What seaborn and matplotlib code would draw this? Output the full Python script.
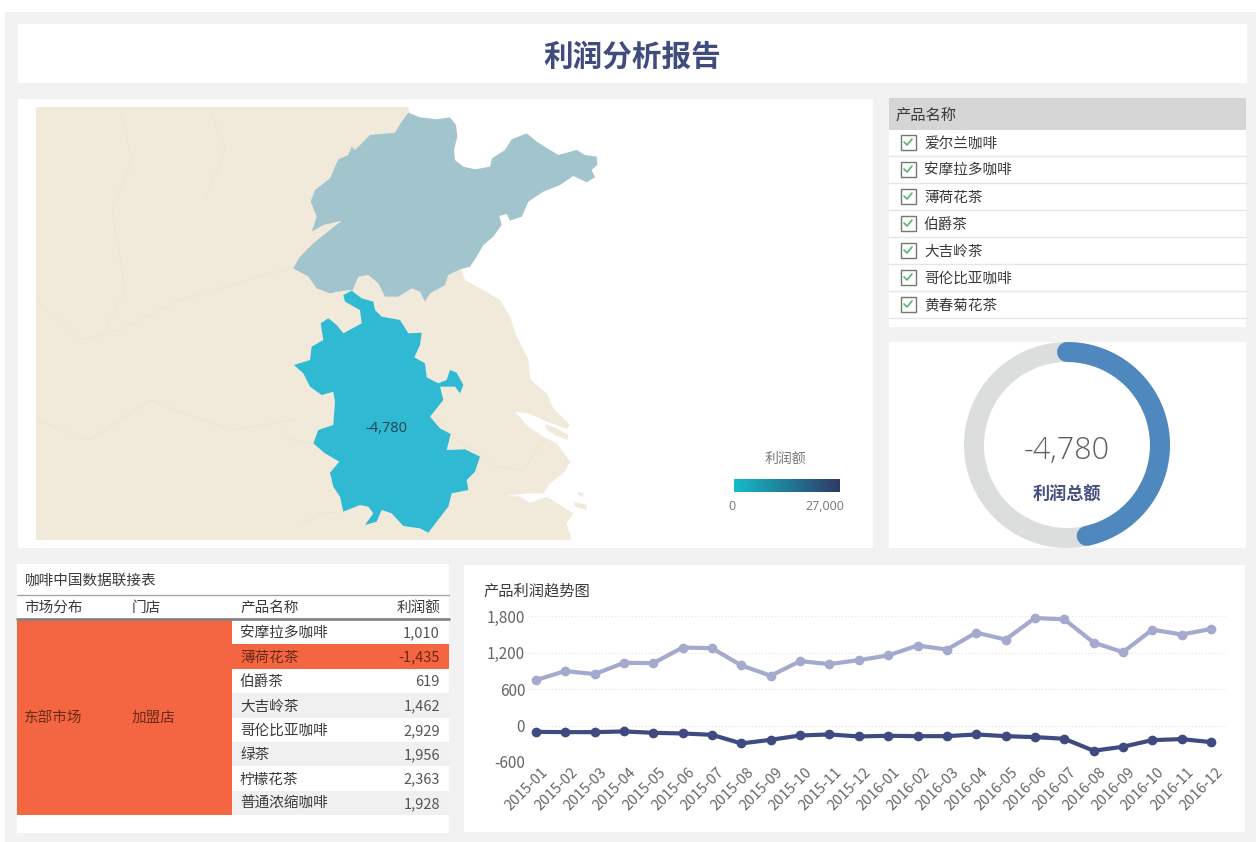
import matplotlib.pyplot as plt
import numpy as np
import seaborn as sns
from matplotlib.colors import LinearSegmentedColormap
from matplotlib.patches import Rectangle
from matplotlib.transforms import ScaledTranslation

# data
months = [f"2015-{m:02d}" for m in range(1, 13)] + [f"2016-{m:02d}" for m in range(1, 13)]
profit_upper = [747, 895, 845, 1031, 1025, 1282, 1271, 987, 818, 1058, 1009, 1075,
                1151, 1315, 1249, 1527, 1413, 1767, 1745, 1364, 1205, 1576, 1495, 1587]
profit_lower = [-104, -109, -109, -98, -120, -131, -153, -295, -235, -164, -147, -180,
                -169, -175, -175, -147, -175, -191, -218, -415, -349, -240, -224, -273]
y_ticks = [-600, 0, 600, 1200, 1800]
table_products = ["安摩拉多咖啡", "薄荷花茶", "伯爵茶", "大吉岭茶", "哥伦比亚咖啡", "绿茶", "柠檬花茶", "普通浓缩咖啡"]
table_profit = [1010, -1435, 619, 1462, 2929, 1956, 2363, 1928]
filter_products = ["爱尔兰咖啡", "安摩拉多咖啡", "薄荷花茶", "伯爵茶", "大吉岭茶", "哥伦比亚咖啡", "黄春菊花茶"]
total_profit = -4780
gauge_share = 0.466

shandong = [(385, 38), (420, 52), (470, 58), (510, 52), (528, 75), (532, 110), (522, 150), (525, 180),
            (550, 200), (585, 208), (630, 200), (636, 175), (675, 150), (695, 118), (740, 100), (770, 125),
            (810, 150), (835, 165), (890, 150), (915, 165), (950, 170), (952, 195), (935, 210), (945, 232),
            (920, 247), (880, 228), (840, 255), (790, 275), (745, 305), (725, 350), (690, 362), (680, 342),
            (658, 348), (665, 375), (640, 410), (610, 435), (590, 470), (570, 500), (540, 508), (505, 525),
            (495, 555), (450, 580), (435, 605), (420, 575), (395, 565), (355, 590), (315, 590), (295, 550),
            (265, 525), (235, 530), (218, 570), (190, 572), (150, 580), (110, 565), (85, 530), (40, 505),
            (60, 470), (100, 430), (185, 362), (130, 375), (95, 395), (110, 350), (92, 305), (105, 270),
            (150, 235), (175, 178), (205, 165), (215, 140), (225, 150), (270, 105), (345, 98), (365, 65)]
anhui = [(215, 32), (245, 55), (280, 65), (285, 90), (305, 110), (360, 120), (385, 160), (425, 158),
         (420, 195), (403, 232), (435, 250), (440, 292), (475, 310), (500, 300), (510, 270), (530, 278),
         (550, 315), (540, 340), (525, 320), (480, 320), (490, 360), (450, 410), (480, 445), (512, 462),
         (500, 510), (555, 508), (600, 530), (585, 575), (560, 600), (565, 630), (515, 640), (505, 680),
         (470, 725), (445, 758), (420, 745), (370, 738), (335, 700), (305, 690), (290, 725), (255, 735),
         (280, 700), (265, 680), (240, 675), (190, 695), (180, 650), (160, 620), (150, 578), (178, 545),
         (135, 520), (100, 490), (115, 450), (160, 435), (165, 365), (160, 335), (125, 345), (90, 320),
         (70, 280), (42, 255), (90, 240), (95, 200), (130, 180), (122, 130), (145, 115), (170, 135),
         (190, 160), (245, 130), (240, 90), (195, 65), (190, 45)]
coast = [(555, 0), (600, 25), (660, 60), (690, 110), (710, 170), (745, 240), (752, 300), (800, 340),
         (820, 385), (870, 435), (862, 447), (800, 425), (745, 400), (705, 395), (745, 440), (790, 470),
         (830, 490), (870, 545), (855, 575), (810, 610), (790, 640), (740, 640), (680, 648), (720, 650),
         (750, 668), (800, 650), (880, 700), (860, 730), (875, 780)]
chongming = [(795, 432), (830, 445), (865, 465), (862, 480), (825, 465), (800, 450)]
islands = [[(895, 635), (912, 640), (908, 650), (895, 645)], [(882, 665), (920, 675), (920, 690), (885, 680)]]
borders = [[(600, 520), (650, 560), (730, 570), (790, 480)], [(0, 450), (40, 480), (100, 490)],
           [(60, 740), (120, 700), (190, 695)], [(455, 400), (530, 480), (600, 520)]]
# faint province lines on the west side, screen pixels
west_borders = [[(120, 108), (132, 160), (112, 210), (125, 290), (100, 340)],
                [(36, 420), (90, 440), (150, 400), (230, 430), (295, 420)],
                [(36, 300), (80, 340), (120, 330), (180, 300), (290, 268)],
                [(210, 108), (225, 150), (205, 200)]]


def crop(points, x0, y0):
    return [x0 + p[0] / 3 for p in points], [y0 + p[1] / 3 for p in points]


sns.set_theme(style="white")
plt.rcParams["font.family"] = ["Noto Sans CJK SC", "DejaVu Sans"]
plt.rcParams["axes.unicode_minus"] = False

fig = plt.figure(figsize=(12.56, 8.42), dpi=100, facecolor="white")
W, H = 1256, 842

# page canvas in pixels, top-left origin
page = fig.add_axes([0, 0, 1, 1])
page.set_xlim(0, W)
page.set_ylim(H, 0)
page.axis("off")


def box(x0, y0, x1, y1, color, z=1):
    page.add_patch(Rectangle((x0, y0), x1 - x0, y1 - y0, facecolor=color, edgecolor="none", zorder=z))


def label(x, y, s, size=10.5, color="#3a3a3a", ha="left", **kw):
    page.text(x, y + 1, s, fontsize=size, color=color, ha=ha, va="center", zorder=6, **kw)


box(5, 12, 1256, 842, "#f2f2f2", 0)
for panel in [(18, 24, 1247, 83), (18, 99, 873, 548), (889, 98, 1246, 327),
              (889, 342, 1246, 548), (17, 564, 449, 833), (464, 565, 1245, 832)]:
    box(*panel, "white")

label(632, 56, "利润分析报告", size=21.3, color="#404c7e", ha="center", fontweight="bold")

# map
lx, ly = crop(coast, 280, 280)
page.fill([36, 408] + lx + [36], [107, 107] + ly + [540], color="#f1eadb", lw=0, zorder=2)
for shape in [chongming] + islands:
    sx, sy = crop(shape, 280, 280)
    page.fill(sx, sy, color="#f1eadb", lw=0, zorder=2)
for line in borders:
    sx, sy = crop(line, 280, 280)
    page.plot(sx, sy, color="#ece4d3", lw=0.6, zorder=2)
for line in west_borders:
    page.plot([p[0] for p in line], [p[1] for p in line], color="#ece4d3", lw=0.6, zorder=2)
sx, sy = crop(shandong, 280, 100)
page.fill(sx, sy, color="#a2c4cd", lw=0, zorder=3)
sx, sy = crop(anhui, 280, 280)
page.fill(sx, sy, color="#2fb9d2", lw=0, zorder=3)
label(386, 427, f"{total_profit:,}", size=10.5, color="#24424f", ha="center", family="Open Sans")

# colour legend
label(785, 458, "利润额", size=10, color="#777777", ha="center")
ramp = LinearSegmentedColormap.from_list("ramp", ["#14bccb", "#2f3a66"])
page.imshow(np.linspace(0, 1, 256).reshape(1, -1), cmap=ramp, extent=(734, 840, 492, 479), aspect="auto", zorder=4)
page.set_xlim(0, W)
page.set_ylim(H, 0)
label(732, 506, "0", size=9, color="#777777", ha="center", family="Open Sans")
label(825, 506, "27,000", size=9, color="#777777", ha="center", family="Open Sans")

# product filter
box(889, 98, 1246, 130, "#d5d5d5", 2)
label(896, 114, "产品名称", size=11)
for i, name in enumerate(filter_products):
    mid = 142.5 + i * 27
    page.plot([889, 1246], [mid + 13.5, mid + 13.5], color="#e6e6e6", lw=1, zorder=2)
    page.add_patch(Rectangle((900.5, mid - 8), 15, 15, facecolor="white", edgecolor="#6f7a70", lw=1, zorder=3))
    page.plot([904, 907, 912], [mid - 0.5, mid + 2.5, mid - 3.5], color="#55b56f", lw=1.2, zorder=4)
    label(924, mid, name, size=10.5)

# table
label(25, 580, "咖啡中国数据联接表", size=10.5)
page.plot([17, 449], [594.5, 594.5], color="#a5a5a5", lw=1, zorder=3)
page.plot([17, 449], [618.5, 618.5], color="#858585", lw=2, zorder=3)
label(24, 607, "市场分布", size=10.5)
label(132, 607, "门店", size=10.5)
label(240, 607, "产品名称", size=10.5)
label(440, 607, "利润额", size=10.5, ha="right")
row_h = 24.4
top = 620
box(17, top, 232, top + row_h * len(table_products), "#f46542", 2)
label(24, 717, "东部市场", size=10.5, color="#6a2b18")
label(132, 717, "加盟店", size=10.5, color="#6a2b18")
for i, (name, value) in enumerate(zip(table_products, table_profit)):
    y0 = top + i * row_h
    shade = "#f46542" if value < 0 else ("white" if i % 2 == 0 else "#f0f0f0")
    box(232, y0, 449, y0 + row_h, shade, 2)
    ink = "#6a2b18" if value < 0 else "#3a3a3a"
    label(240, y0 + row_h / 2, name, size=10.5, color=ink)
    label(440, y0 + row_h / 2, f"{value:,}", size=10.5, color=ink if value < 0 else "#555555", ha="right")

# gauge
cx, cy, rad = 1067, 445, 118
gauge = fig.add_axes([(cx - rad) / W, 1 - (cy + rad) / H, 2 * rad / W, 2 * rad / H], projection="polar")
gauge.patch.set_alpha(0)
gauge.set_theta_zero_location("N")
gauge.set_theta_direction(-1)
gauge.set_ylim(0, rad)
gauge.axis("off")
theta = np.linspace(0, 2 * np.pi, 361)
gauge.plot(theta, np.full_like(theta, 93.0), color="#dcdddd", lw=14.4)
arc = np.linspace(0, 2 * np.pi * gauge_share, 200)
gauge.plot(arc, np.full_like(arc, 93.0), color="#4f88bf", lw=14.4, solid_capstyle="round")
label(1067, 450, f"{total_profit:,}", size=22, color="#606060", ha="center", family="Open Sans", fontweight="light")
label(1067, 494, "利润总额", size=12.3, color="#44507f", ha="center", fontweight="bold")

# trend line chart
label(484, 590, "产品利润趋势图", size=11)
left, right, y_top, y_bot = 528, 1226, 616, 762
ax = fig.add_axes([left / W, 1 - y_bot / H, (right - left) / W, (y_bot - y_top) / H])
ax.patch.set_alpha(0)
sns.lineplot(x=months, y=profit_upper, ax=ax, color="#a4aacd", lw=3, marker="o", ms=7, mew=0, sort=False, clip_on=False)
sns.lineplot(x=months, y=profit_lower, ax=ax, color="#3f4a80", lw=3, marker="o", ms=7, mew=0, sort=False, clip_on=False)
ax.set_xlim(-0.27, 23.51)
ax.set_ylim(-600, 1800)
ax.set_yticks(y_ticks)
ax.set_yticklabels([f"{v:,}" for v in y_ticks], fontsize=11, color="#666666")
ax.set_xticks(range(len(months)))
ax.set_xticklabels(months, rotation=45, ha="right", rotation_mode="anchor", fontsize=10.5, color="#666666")
ax.tick_params(axis="both", length=0, pad=2)
shift = ScaledTranslation(5 / 100, 0, fig.dpi_scale_trans)
for tick in ax.get_xticklabels():
    tick.set_transform(tick.get_transform() + shift)
ax.yaxis.grid(True, color="#e2e2e2", lw=0.8, linestyle=(0, (1, 2)))
ax.xaxis.grid(False)
sns.despine(ax=ax, left=True, bottom=True)

fig.savefig("out.png", dpi=100)
